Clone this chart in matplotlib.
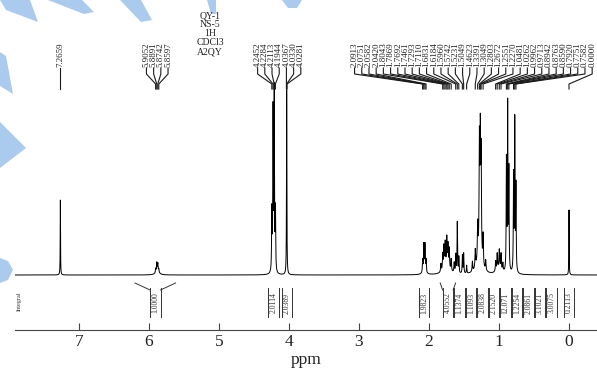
import numpy as np
import matplotlib
matplotlib.use('Agg')
import matplotlib.pyplot as plt
from matplotlib.patches import Polygon

plt.rcParams['font.family'] = ['Liberation Serif', 'DejaVu Serif']

# spectrum peaks: shift (ppm), height (px above baseline), half width (ppm)
peak_ppm = [7.266,
            5.905, 5.889, 5.874, 5.860, 5.880,
            4.245, 4.228, 4.211, 4.194, 4.033,
            2.091, 2.075, 2.058, 2.042, 2.066,
            1.830, 1.804, 1.787, 1.769, 1.746, 1.729, 1.711, 1.683, 1.640, 1.750,
            1.618, 1.596, 1.574, 1.523, 1.505, 1.462,
            1.380, 1.339, 1.305, 1.280, 1.267, 1.255, 1.227, 1.190, 1.280,
            1.048, 1.026, 0.996, 0.971, 0.945, 1.000,
            0.894, 0.876, 0.859,
            0.792, 0.775, 0.758,
            0.000]
peak_h = [75,
          4, 8, 7, 3, 5,
          60, 160, 180, 60, 185,
          12, 25, 25, 12, 6,
          8, 16, 22, 24, 28, 22, 20, 12, 10, 8,
          18, 51, 16, 18, 20, 8,
          10, 18, 35, 110, 115, 100, 30, 10, 18,
          10, 16, 18, 16, 8, 6,
          110, 165, 100,
          95, 150, 85,
          65]
peak_w = [0.0025,
          0.004, 0.004, 0.004, 0.004, 0.025,
          0.004, 0.004, 0.004, 0.004, 0.003,
          0.004, 0.004, 0.004, 0.004, 0.02,
          0.005, 0.005, 0.005, 0.005, 0.005, 0.005, 0.005, 0.005, 0.005, 0.05,
          0.004, 0.004, 0.004, 0.004, 0.004, 0.004,
          0.005, 0.005, 0.005, 0.005, 0.005, 0.005, 0.005, 0.005, 0.04,
          0.005, 0.005, 0.005, 0.005, 0.005, 0.04,
          0.004, 0.004, 0.004,
          0.004, 0.004, 0.004,
          0.0025]

# picked peak labels
label_vals = [7.2659,
              5.9052, 5.8891, 5.8742, 5.8597,
              4.2452, 4.2284, 4.2113, 4.1944, 4.0367, 4.0330, 4.0281,
              2.0913, 2.0751, 2.0582, 2.0420, 1.8043, 1.7869, 1.7692, 1.7461,
              1.7293, 1.7110, 1.6831, 1.6184, 1.5960, 1.5742, 1.5231, 1.5049,
              1.4623, 1.3391, 1.3049, 1.2803, 1.2672, 1.2551, 1.2270, 1.0481,
              1.0262, 0.9962, 0.9713, 0.8942, 0.8763, 0.8590, 0.7920, 0.7751,
              0.7582, 0.0000]

# integrals
int_start = [6.20, 4.30, 4.10, 2.14, 1.84, 1.62, 1.56, 1.48, 1.42, 1.34, 1.20, 1.10, 0.93, 0.83, 0.05]
int_end   = [5.62, 4.14, 3.96, 2.00, 1.62, 1.56, 1.48, 1.42, 1.34, 1.20, 1.12, 0.93, 0.83, 0.70, -0.05]
int_vals  = ['1.0000', '2.0114', '2.0389', '1.9823', '4.0552', '1.1374', '1.1093',
             '2.0838', '2.1520', '12.071', '1.2254', '2.0861', '3.1021', '3.0075', '0.2113']

title_txt = 'QY-1\nNS-5\n1H\nCDCl3\nA2QY'

XL, XR = 7.914, -0.4
PX = 582 / (XL - XR)          # px per ppm
BASE = 275                    # spectrum baseline row


def to_px(p):
    return 15 + (XL - np.asarray(p, float)) * PX


def to_ppm(x):
    return XL - (np.asarray(x, float) - 15) / PX


def spread(xs, gap):
    # put labels side by side, each cluster centred on its targets
    t = np.sort(np.asarray(xs, float))
    clusters = [[i] for i in range(len(t))]
    changed = True
    while changed:
        changed = False
        new = [clusters[0]]
        for c in clusters[1:]:
            last = new[-1]
            r = np.mean(t[last]) + (len(last) - 1) / 2 * gap
            l = np.mean(t[c]) - (len(c) - 1) / 2 * gap
            if l - r < gap:
                new[-1] = last + c
                changed = True
            else:
                new.append(c)
        clusters = new
    pos = t.copy()
    for c in clusters:
        ctr = np.mean(t[c])
        for k, i in enumerate(c):
            pos[i] = ctr + (k - (len(c) - 1) / 2) * gap
    return pos


fig = plt.figure(figsize=(5.97, 3.76), dpi=100)

# light blue watermark pieces
blue = '#aacbee'
shapes = [[(0, 0), (30, 0), (38, 22), (6, 10)],
          [(48, 0), (82, 0), (94, 12), (84, 14)],
          [(120, 0), (141, 0), (152, 20), (141, 22)],
          [(207, 0), (216, 0), (216, 14), (211, 14)],
          [(282, 0), (302, 0), (297, 8), (288, 8)],
          [(0, 52), (6, 56), (13, 94), (0, 86)],
          [(0, 122), (26, 148), (0, 168)],
          [(0, 258), (8, 261), (13, 270), (8, 280), (0, 283)]]
for s in shapes:
    fig.add_artist(Polygon([(x / 597, 1 - y / 376) for x, y in s], closed=True,
                           facecolor=blue, edgecolor='none', zorder=-1,
                           transform=fig.transFigure))

ax = fig.add_axes([15 / 597, 0, 582 / 597, 1])
ax.patch.set_alpha(0)
ax.set_xlim(XL, XR)
ax.set_ylim(376, 0)

# spectrum
ppm = np.linspace(XL, XR, 40000)
inten = np.zeros_like(ppm)
for p, h, w in zip(peak_ppm, peak_h, peak_w):
    inten += h / (1 + ((ppm - p) / w) ** 2)
ax.plot(ppm, BASE - inten, color='black', lw=0.7)

# ppm axis
for s in ['top', 'left', 'right']:
    ax.spines[s].set_visible(False)
ax.spines['bottom'].set_position(('data', 330))
ax.spines['bottom'].set_color('#444444')
ax.set_yticks([])
ax.set_xticks(range(0, 8))
ax.tick_params(axis='x', direction='in', length=5, width=0.8, colors='#444444',
               labelcolor='#222222', labelsize=12.5, pad=3)
ax.set_xlabel('ppm', fontsize=12.5, color='#222222', labelpad=1)

# peak labels with connectors
tx = to_px(label_vals)
order = np.argsort(tx)
lab_x = spread(tx, 7.2)
for k, i in enumerate(order):
    xl = lab_x[k]
    xp = tx[i]
    ax.text(to_ppm(xl), 67, '%.4f' % label_vals[i], rotation=90, fontsize=6.5,
            ha='center', va='bottom', color='#222222')
    ax.plot(to_ppm([xl, xl, xp, xp]), [68, 74, 84, 89], color='#1a1a1a', lw=0.8)

ax.text(to_ppm(210), 11, title_txt, fontsize=7, ha='center', va='top',
        linespacing=1.0, color='#222222')

# integral row
ax.text(to_ppm(19), 301, 'Integral', rotation=90, fontsize=4.5,
        ha='center', va='center', color='#333333')
bw, gap = 10.5, 1.0
prev_r = -1e9
for s, e, v in zip(int_start, int_end, int_vals):
    xs, xe = to_px(s), to_px(e)
    c = (xs + xe) / 2
    left = max(c - bw / 2, prev_r + gap)
    right = left + bw
    prev_r = right
    if xe - xs > bw + 4:
        ax.plot(to_ppm([xs, left]), [283, 290], color='#333333', lw=0.7)
        ax.plot(to_ppm([xe, right]), [283, 290], color='#333333', lw=0.7)
    ax.plot(to_ppm([left, left]), [288, 317], color='#333333', lw=0.7)
    ax.plot(to_ppm([right, right]), [288, 317], color='#333333', lw=0.7)
    ax.text(to_ppm((left + right) / 2), 303, v, rotation=90, fontsize=5.5,
            ha='center', va='center', color='#333333')

fig.savefig('out.png', dpi=100)
